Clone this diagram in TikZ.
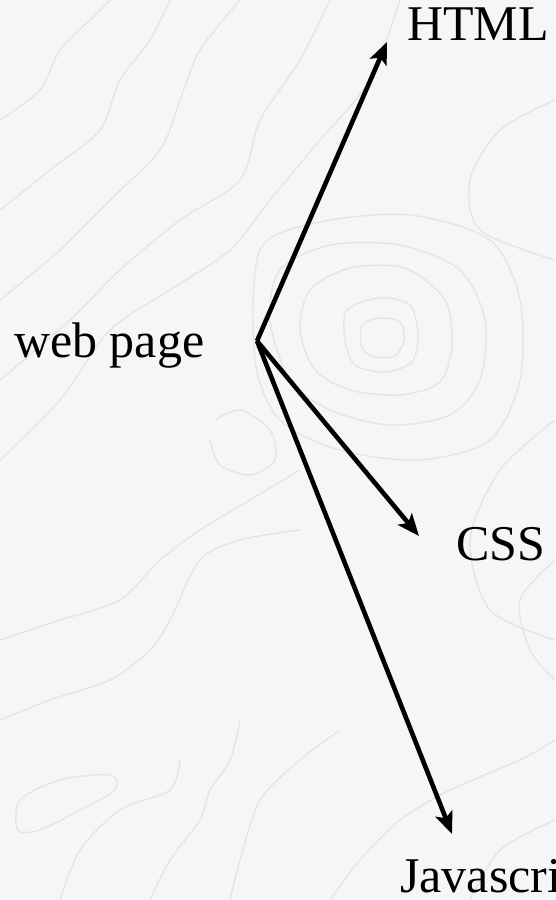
\documentclass[tikz,border=0pt]{standalone}
\usepackage{fontspec}
\setmainfont{Liberation Serif}
\usetikzlibrary{arrows.meta}

\definecolor{paper}{HTML}{F5F6F8}
\definecolor{contour}{HTML}{E4E5E9}

\tikzset{
  label text/.style={inner sep=0pt, font=\fontsize{50}{52}\selectfont, text=black},
  branch/.style={line width=4.6pt, draw=black, -{Stealth[length=22pt,width=18pt,inset=5pt]}},
  topo/.style={draw=contour, line width=1.4pt},
}

\begin{document}
\begin{tikzpicture}[x=1pt, y=-1pt]
  \useasboundingbox (0,0) rectangle (555,900);
  \clip (0,0) rectangle (555,900);
  \fill[paper] (0,0) rectangle (555,900);

  % faint topographic backdrop
  \begin{scope}[topo]
    % nested rings right of the hub
    \draw plot[smooth cycle] coordinates {(362,325) (380,318) (400,322) (404,340) (395,356) (375,357) (362,348)};
    \draw plot[smooth cycle] coordinates {(347,310) (380,298) (410,305) (418,335) (412,362) (385,372) (355,365) (345,340)};
    \draw plot[smooth cycle] coordinates {(310,290) (350,268) (405,268) (445,300) (452,345) (440,382) (400,395) (350,390) (315,370) (300,330)};
    \draw plot[smooth cycle] coordinates {(280,270) (330,245) (400,245) (460,270) (485,320) (480,380) (450,415) (390,425) (330,410) (290,380) (270,320)};
    \draw plot[smooth cycle] coordinates {(260,250) (320,222) (410,215) (490,240) (520,300) (520,380) (490,440) (420,460) (340,450) (280,420) (255,360)};
    % diagonal sweeps, upper left
    \draw plot[smooth] coordinates {(0,120) (40,90) (60,50) (90,20) (110,0)};
    \draw plot[smooth] coordinates {(0,210) (50,170) (100,130) (120,80) (150,40) (170,0)};
    \draw plot[smooth] coordinates {(0,300) (60,250) (110,200) (160,150) (180,100) (200,50) (240,0)};
    \draw plot[smooth] coordinates {(0,380) (70,320) (120,270) (180,220) (240,180) (260,120) (300,60) (330,0)};
    \draw plot[smooth] coordinates {(0,460) (60,400) (110,330) (170,290) (230,250) (270,200) (320,140) (370,80) (400,0)};
    \draw plot[smooth] coordinates {(215,420) (240,410) (270,430) (275,460) (250,475) (220,465) (210,440)};
    % right edge
    \draw plot[smooth] coordinates {(555,100) (500,130) (470,180) (480,230) (555,260)};
    \draw plot[smooth] coordinates {(555,420) (500,470) (470,540) (490,610) (555,640)};
    \draw plot[smooth] coordinates {(555,560) (520,600) (530,650) (555,680)};
    % lower left
    \draw plot[smooth] coordinates {(0,640) (60,620) (120,600) (160,560) (200,530) (250,500) (300,470)};
    \draw plot[smooth] coordinates {(0,720) (50,700) (110,680) (150,650) (170,620) (200,560) (240,540) (300,530)};
    \draw plot[smooth] coordinates {(60,900) (80,850) (120,810) (170,790) (180,760)};
    \draw plot[smooth] coordinates {(150,900) (170,860) (200,820) (210,790) (230,760) (240,720)};
    \draw plot[smooth] coordinates {(230,900) (240,860) (260,800) (300,760) (340,730)};
    \draw plot[smooth cycle] coordinates {(20,800) (60,780) (110,775) (115,790) (80,810) (40,830) (18,830)};
    % lower right
    \draw plot[smooth] coordinates {(330,900) (360,860) (400,820) (450,790) (520,760) (555,740)};
    \draw plot[smooth] coordinates {(555,820) (500,850) (470,900)};
  \end{scope}

  % hub and arrow targets
  \coordinate (hub) at (257,341);
  \coordinate (toHTML) at (387,42);
  \coordinate (toCSS) at (419,536);
  \coordinate (toJS) at (452,834);

  % labels
  \node[label text, anchor=base west] (webpage) at (14,357) {web page};
  \node[label text, anchor=base west] (html) at (407,40) {HTML};
  \node[label text, anchor=base west] (css) at (456,560) {CSS};
  \node[label text, anchor=base west] (js) at (400,892) {Javascript};

  % branches
  \draw[branch] (hub) -- (toHTML);
  \draw[branch] (hub) -- (toCSS);
  \draw[branch] (hub) -- (toJS);
\end{tikzpicture}
\end{document}
